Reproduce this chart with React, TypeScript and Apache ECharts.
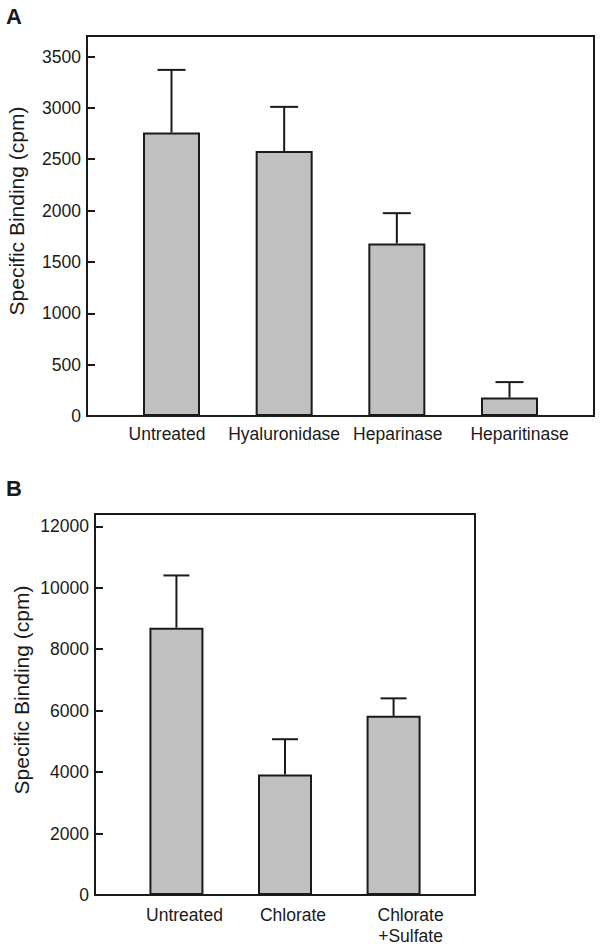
import React, { useEffect, useRef } from "react";
import * as echarts from "echarts";

const catsA = ["Untreated", "Hyaluronidase", "Heparinase", "Heparitinase"];
const meanA = [2760, 2580, 1680, 180];
const sdA = [610, 430, 295, 150];
const ticksA = [0, 500, 1000, 1500, 2000, 2500, 3000, 3500];

const catsB = ["Untreated", "Chlorate", "Chlorate\n+Sulfate"];
const meanB = [8700, 3920, 5830];
const sdB = [1700, 1150, 570];
const ticksB = [0, 2000, 4000, 6000, 8000, 10000, 12000];

const INK = "#1a1a1a";
const FILL = "#c0c0c0";
const FONT = "Liberation Sans, Arial, Helvetica, sans-serif";
const FS = 17.5;

function errRender(capW: number) {
  return (params: any, api: any) => {
    const x = api.value(0);
    const m = api.value(1);
    const u = api.value(2);
    const p0 = api.coord([x, m]);
    const p1 = api.coord([x, u]);
    const style = { stroke: INK, lineWidth: 2 };
    return {
      type: "group",
      children: [
        { type: "line", shape: { x1: p0[0], y1: p0[1], x2: p1[0], y2: p1[1] }, style },
        { type: "line", shape: { x1: p1[0] - capW / 2, y1: p1[1], x2: p1[0] + capW / 2, y2: p1[1] }, style },
      ],
    };
  };
}

export default function App() {
  const ref = useRef<HTMLDivElement>(null);
  useEffect(() => {
    if (!ref.current) return;
    const chart = echarts.init(ref.current, null, { renderer: "svg" });

    const padA = [[0, 9, 0, 0], [0, 0, 0, 0], [0, 0, 0, 2], [0, 0, 0, 20]];
    const padB = [[0, 0, 0, 16], [0, 0, 0, 16], [0, 0, 0, 34]];
    const richA: any = {};
    padA.forEach((p, i) => (richA["a" + i] = { padding: p, fontSize: FS, fontFamily: FONT, color: INK }));
    const richB: any = {};
    padB.forEach((p, i) => (richB["b" + i] = { padding: p, fontSize: FS, fontFamily: FONT, color: INK, lineHeight: 21 }));

    const yCommon = {
      splitLine: { show: false },
      axisLine: { show: true, onZero: false, lineStyle: { color: INK, width: 2 } },
      axisLabel: { fontSize: FS, fontFamily: FONT, color: INK, margin: 6, formatter: (v: number) => String(v) },
      axisTick: { show: true, inside: true, length: 8, lineStyle: { color: INK, width: 2 } },
    };

    chart.setOption({
      animation: false,
      backgroundColor: "#ffffff",
      grid: [
        { left: 87, top: 36, width: 507, height: 380, show: true, borderColor: INK, borderWidth: 2, backgroundColor: "transparent" },
        { left: 95, top: 514, width: 380, height: 381, show: true, borderColor: INK, borderWidth: 2, backgroundColor: "transparent" },
      ],
      xAxis: [
        {
          type: "value", gridIndex: 0, min: -0.75, max: 3.75,
          splitLine: { show: false },
          axisLine: { show: true, onZero: false, lineStyle: { color: INK, width: 2 } },
          axisTick: { show: false },
          axisLabel: {
            customValues: [0, 1, 2, 3], margin: 9,
            formatter: (v: number) => { const i = Math.round(v); return "{a" + i + "|" + catsA[i] + "}"; },
            rich: richA,
          },
        },
        {
          type: "value", gridIndex: 1, min: -0.75, max: 2.75,
          splitLine: { show: false },
          axisLine: { show: true, onZero: false, lineStyle: { color: INK, width: 2 } },
          axisTick: { show: false },
          axisLabel: {
            customValues: [0, 1, 2], margin: 9,
            formatter: (v: number) => {
              const i = Math.round(v);
              return catsB[i].split("\n").map((s) => "{b" + i + "|" + s + "}").join("\n");
            },
            rich: richB,
          },
        },
      ],
      yAxis: [
        {
          ...yCommon, type: "value", gridIndex: 0, min: 0, max: 3700,
          axisLabel: { ...yCommon.axisLabel, customValues: ticksA },
          axisTick: { ...yCommon.axisTick, customValues: ticksA },
        },
        {
          ...yCommon, type: "value", gridIndex: 1, min: 0, max: 12400,
          axisLabel: { ...yCommon.axisLabel, customValues: ticksB },
          axisTick: { ...yCommon.axisTick, customValues: ticksB },
        },
      ],
      series: [
        {
          type: "bar", xAxisIndex: 0, yAxisIndex: 0, barWidth: 57,
          data: meanA.map((m, i) => [i, m]),
          itemStyle: { color: FILL, borderColor: INK, borderWidth: 2 },
        },
        {
          type: "custom", xAxisIndex: 0, yAxisIndex: 0,
          data: meanA.map((m, i) => [i, m, m + sdA[i]]),
          renderItem: errRender(28),
          encode: { x: 0, y: [1, 2] },
          z: 3,
        },
        {
          type: "bar", xAxisIndex: 1, yAxisIndex: 1, barWidth: 54,
          data: meanB.map((m, i) => [i, m]),
          itemStyle: { color: FILL, borderColor: INK, borderWidth: 2 },
        },
        {
          type: "custom", xAxisIndex: 1, yAxisIndex: 1,
          data: meanB.map((m, i) => [i, m, m + sdB[i]]),
          renderItem: errRender(26),
          encode: { x: 0, y: [1, 2] },
          z: 3,
        },
      ],
      graphic: [
        { type: "text", left: 6, top: 5, style: { text: "A", font: "bold 22px " + FONT, fill: INK } },
        { type: "text", left: 6, top: 477, style: { text: "B", font: "bold 22px " + FONT, fill: INK } },
        {
          type: "text", x: 16, y: 211, rotation: Math.PI / 2,
          style: { text: "Specific Binding (cpm)", font: "21px " + FONT, fill: INK, align: "center", verticalAlign: "middle" },
        },
        {
          type: "text", x: 21, y: 690, rotation: Math.PI / 2,
          style: { text: "Specific Binding (cpm)", font: "21px " + FONT, fill: INK, align: "center", verticalAlign: "middle" },
        },
      ],
    });
    return () => chart.dispose();
  }, []);
  return (
    <div
      ref={ref}
      style={{ position: "fixed", left: 0, top: 0, width: 600, height: 947, background: "#fff" }}
    />
  );
}
